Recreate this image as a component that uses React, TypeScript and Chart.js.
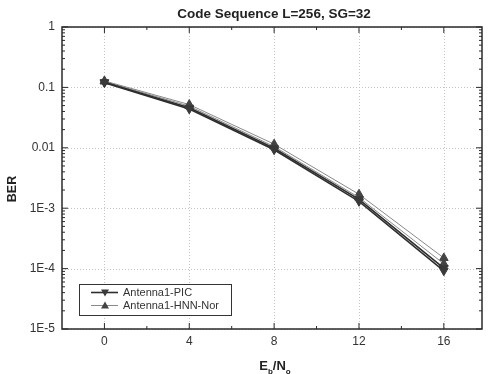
import React, { useEffect, useRef } from "react";
import { Chart, registerables } from "chart.js";
Chart.register(...registerables);

const ebNo = [0, 4, 8, 12, 16];
const picA = [0.12, 0.044, 0.0093, 0.0013, 9.2e-5];
const picB = [0.122, 0.046, 0.0098, 0.0014, 1.02e-4];
const hnnA = [0.125, 0.049, 0.0105, 0.0015, 1.2e-4];
const hnnB = [0.128, 0.052, 0.0115, 0.0017, 1.5e-4];
const xTicks = [0, 4, 8, 12, 16];
const xMinorTicks = [2, 6, 10, 14];
const yTicks = [1e-5, 1e-4, 1e-3, 1e-2, 1e-1, 1];
const yTickLabels = ["1E-5", "1E-4", "1E-3", "0.01", "0.1", "1"];
const legendLabels = ["Antenna1-PIC", "Antenna1-HNN-Nor"];
const titleText = "Code Sequence L=256, SG=32";
const yTitle = "BER";

const FONT = "'Liberation Sans', Arial, sans-serif";

const framePlugin = {
  id: "frame",
  beforeDatasetsDraw(chart: any) {
    const { ctx, chartArea: a, scales } = chart;
    const x = scales.x, y = scales.y;
    ctx.save();
    ctx.strokeStyle = "#c4c4c4";
    ctx.lineWidth = 1;
    ctx.setLineDash([1, 2]);
    xTicks.forEach((v) => {
      const px = Math.round(x.getPixelForValue(v)) + 0.5;
      ctx.beginPath(); ctx.moveTo(px, a.top); ctx.lineTo(px, a.bottom); ctx.stroke();
    });
    yTicks.forEach((v) => {
      const py = Math.round(y.getPixelForValue(v)) + 0.5;
      ctx.beginPath(); ctx.moveTo(a.left, py); ctx.lineTo(a.right, py); ctx.stroke();
    });
    ctx.restore();
  },
  afterDatasetsDraw(chart: any) {
    const { ctx, chartArea: a, scales } = chart;
    const x = scales.x, y = scales.y;
    ctx.save();
    ctx.setLineDash([]);
    ctx.strokeStyle = "#2a2a2a";
    ctx.lineWidth = 1.5;
    ctx.strokeRect(a.left, a.top, a.right - a.left, a.bottom - a.top);
    ctx.lineWidth = 1;
    // y ticks
    for (let d = 0; d < yTicks.length; d++) {
      const base = yTicks[d];
      const py = y.getPixelForValue(base);
      ctx.beginPath();
      ctx.moveTo(a.left, py); ctx.lineTo(a.left + 6, py);
      ctx.moveTo(a.right, py); ctx.lineTo(a.right - 6, py);
      ctx.stroke();
      if (d < yTicks.length - 1) {
        for (let m = 2; m <= 9; m++) {
          const pm = y.getPixelForValue(base * m);
          ctx.beginPath();
          ctx.moveTo(a.left, pm); ctx.lineTo(a.left + 3, pm);
          ctx.moveTo(a.right, pm); ctx.lineTo(a.right - 3, pm);
          ctx.stroke();
        }
      }
    }
    xTicks.forEach((v) => {
      const px = x.getPixelForValue(v);
      ctx.beginPath();
      ctx.moveTo(px, a.bottom); ctx.lineTo(px, a.bottom - 6);
      ctx.moveTo(px, a.top); ctx.lineTo(px, a.top + 6);
      ctx.stroke();
    });
    xMinorTicks.forEach((v) => {
      const px = x.getPixelForValue(v);
      ctx.beginPath();
      ctx.moveTo(px, a.bottom); ctx.lineTo(px, a.bottom - 3);
      ctx.moveTo(px, a.top); ctx.lineTo(px, a.top + 3);
      ctx.stroke();
    });

    // legend
    const lx = a.left + 17, ly = a.bottom - 45, lw = 152, lh = 31;
    ctx.fillStyle = "#ffffff";
    ctx.fillRect(lx, ly, lw, lh);
    ctx.strokeStyle = "#333";
    ctx.lineWidth = 1;
    ctx.strokeRect(lx + 0.5, ly + 0.5, lw, lh);
    const ds = chart.data.datasets;
    legendLabels.forEach((lab, i) => {
      const d = ds[i === 0 ? 0 : 2];
      const cy = ly + 8.5 + i * 13;
      ctx.strokeStyle = d.borderColor;
      ctx.lineWidth = d.borderWidth;
      ctx.beginPath(); ctx.moveTo(lx + 12, cy); ctx.lineTo(lx + 39, cy); ctx.stroke();
      ctx.fillStyle = d.pointBackgroundColor;
      ctx.beginPath();
      const mx = lx + 26;
      if (i === 0) {
        ctx.moveTo(mx - 4, cy - 3); ctx.lineTo(mx + 4, cy - 3); ctx.lineTo(mx, cy + 4);
      } else {
        ctx.moveTo(mx - 4, cy + 3); ctx.lineTo(mx + 4, cy + 3); ctx.lineTo(mx, cy - 4);
      }
      ctx.closePath(); ctx.fill();
      ctx.fillStyle = "#333";
      ctx.font = `11px ${FONT}`;
      ctx.textAlign = "left";
      ctx.textBaseline = "middle";
      ctx.fillText(lab, lx + 44, cy + 0.5);
    });

    // title
    ctx.fillStyle = "#222";
    ctx.font = `bold 13.5px ${FONT}`;
    ctx.textAlign = "center";
    ctx.textBaseline = "middle";
    ctx.fillText(titleText, (a.left + a.right) / 2 + 2, 14);

    // y title
    ctx.save();
    ctx.translate(13, (a.top + a.bottom) / 2 + 11);
    ctx.rotate(-Math.PI / 2);
    ctx.font = `bold 12.5px ${FONT}`;
    ctx.fillText(yTitle, 0, 0);
    ctx.restore();

    // x title E_b/N_o
    const big = `bold 13px ${FONT}`;
    const small = `bold 8px ${FONT}`;
    const parts = [
      { t: "E", f: big, dy: 0 },
      { t: "b", f: small, dy: 4 },
      { t: "/N", f: big, dy: 0 },
      { t: "o", f: small, dy: 4 },
    ];
    let total = 0;
    parts.forEach((p) => { ctx.font = p.f; total += ctx.measureText(p.t).width; });
    let cx = (a.left + a.right) / 2 + 3 - total / 2;
    ctx.textAlign = "left";
    ctx.textBaseline = "alphabetic";
    parts.forEach((p) => {
      ctx.font = p.f;
      ctx.fillText(p.t, cx, 370 + p.dy);
      cx += ctx.measureText(p.t).width;
    });
    ctx.restore();
  },
};

export default function App() {
  const ref = useRef<HTMLCanvasElement | null>(null);
  useEffect(() => {
    document.body.style.margin = "0";
    const mk = (arr: number[]) => ebNo.map((x, i) => ({ x, y: arr[i] }));
    const dark = "#2e2e2e";
    const gray = "#8a8a8a";
    const chart = new Chart(ref.current as HTMLCanvasElement, {
      type: "line",
      data: {
        datasets: [
          { label: legendLabels[0], data: mk(picA), borderColor: dark, borderWidth: 1.6, pointStyle: "triangle", rotation: 180, pointRadius: 5, pointBackgroundColor: "#3a3a3a", pointBorderColor: "#3a3a3a", pointBorderWidth: 1 },
          { label: legendLabels[0], data: mk(picB), borderColor: dark, borderWidth: 1.6, pointStyle: "triangle", rotation: 180, pointRadius: 5, pointBackgroundColor: "#3a3a3a", pointBorderColor: "#3a3a3a", pointBorderWidth: 1 },
          { label: legendLabels[1], data: mk(hnnA), borderColor: gray, borderWidth: 1, pointStyle: "triangle", rotation: 0, pointRadius: 5, pointBackgroundColor: "#444", pointBorderColor: "#444", pointBorderWidth: 1 },
          { label: legendLabels[1], data: mk(hnnB), borderColor: gray, borderWidth: 1, pointStyle: "triangle", rotation: 0, pointRadius: 5, pointBackgroundColor: "#444", pointBorderColor: "#444", pointBorderWidth: 1 },
        ],
      } as any,
      options: {
        responsive: false,
        animation: false,
        devicePixelRatio: 1,
        layout: { padding: { top: 27, right: 2, left: 0, bottom: 0 } },
        plugins: { legend: { display: false }, title: { display: false }, tooltip: { enabled: false } },
        scales: {
          x: {
            type: "linear",
            min: -2,
            max: 17.8,
            afterBuildTicks: (s: any) => { s.ticks = xTicks.map((v) => ({ value: v })); },
            afterFit: (s: any) => { s.height = 45; },
            grid: { display: false, drawTicks: false },
            border: { display: false },
            ticks: { padding: 5, color: "#333", font: { family: FONT, size: 12 }, autoSkip: false, maxRotation: 0 },
          },
          y: {
            type: "logarithmic",
            min: 1e-5,
            max: 1,
            afterBuildTicks: (s: any) => { s.ticks = yTicks.map((v) => ({ value: v })); },
            afterFit: (s: any) => { s.width = 62; },
            grid: { display: false, drawTicks: false },
            border: { display: false },
            ticks: {
              padding: 7,
              color: "#333",
              font: { family: FONT, size: 12 },
              autoSkip: false,
              callback: (v: any) => {
                const i = yTicks.findIndex((t) => Math.abs(Math.log10(t) - Math.log10(Number(v))) < 1e-6);
                return i >= 0 ? yTickLabels[i] : "";
              },
            },
          },
        },
      } as any,
      plugins: [framePlugin],
    });
    return () => chart.destroy();
  }, []);
  return (
    <div style={{ width: 488, height: 374, background: "#fff" }}>
      <canvas ref={ref} width={488} height={374} />
    </div>
  );
}
